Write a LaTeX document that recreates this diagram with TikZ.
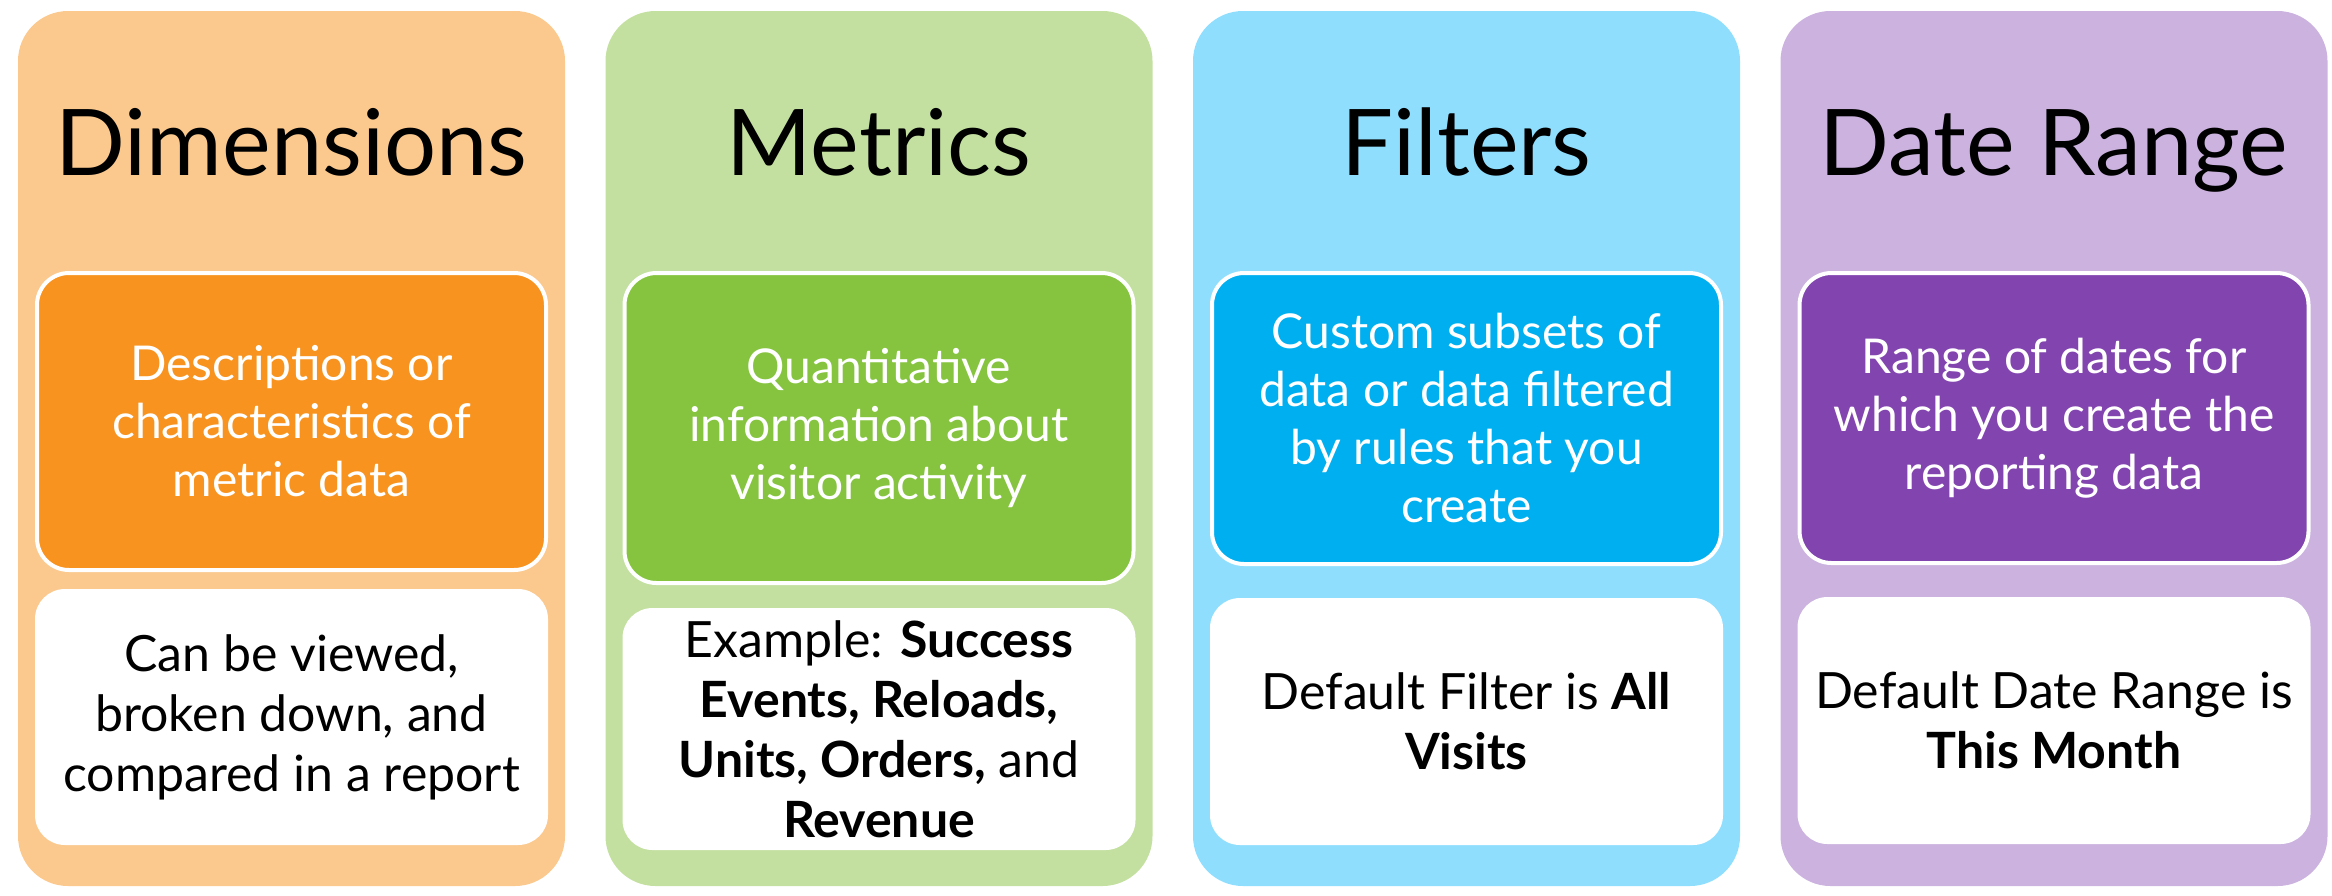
\documentclass[tikz,border=0pt]{standalone}
\usepackage{fontspec}
\setmainfont{Lato}
\usetikzlibrary{calc}
% panel colours (light back, strong box)
\definecolor{dimLight}{HTML}{FBC98E}
\definecolor{dimDark}{HTML}{F7931E}
\definecolor{metLight}{HTML}{C3E0A0}
\definecolor{metDark}{HTML}{86C43F}
\definecolor{filLight}{HTML}{90DEFE}
\definecolor{filDark}{HTML}{00AFEF}
\definecolor{dateLight}{HTML}{CBB2DF}
\definecolor{dateDark}{HTML}{8245AF}
\tikzset{
	panel/.style={rectangle, rounded corners=25pt, inner sep=0pt,
		minimum width=273.5pt, minimum height=437.5pt},
	heading/.style={anchor=base, inner sep=0pt, font=\fontsize{46}{56}\selectfont},
	descBox/.style={rectangle, rounded corners=16pt, draw=white, line width=2pt,
		text=white, align=center, inner sep=0pt, minimum width=254.5pt,
		font=\fontsize{24}{29}\selectfont},
	noteBox/.style={rectangle, rounded corners=15pt, fill=white, align=center,
		inner sep=0pt, minimum width=256.5pt, font=\fontsize{25}{30}\selectfont},
}
\begin{document}
\begin{tikzpicture}[x=0.5pt, y=-0.5pt]
		
		\useasboundingbox (0,0) rectangle (2332,895);
		
		% back panels, one per column
		\foreach \cx/\shade/\name in {291.5/dimLight/dim, 879/metLight/met, 1466.5/filLight/fil, 2054/dateLight/date}
		{
			\node[panel, fill=\shade] (\name Panel) at (\cx,448.5) {};
		}
		
		% column headings
		\node[heading] (dimTitle) at (291.5,175) {Dimensions};
		\node[heading] (metTitle) at (879,175) {Metrics};
		\node[heading] (filTitle) at (1466.5,175) {Filters};
		\node[heading] (dateTitle) at (2054,175) {Date Range};
		
		% coloured boxes with the definitions
		\node[descBox, fill=dimDark, minimum height=148.5pt] (dimDesc) at (291.5,421.5)
			{Descriptions or\\ characteristics of\\ metric data};
		\node[descBox, fill=metDark, minimum height=155pt] (metDesc) at (879,428)
			{Quantitative\\ information about\\ visitor activity};
		\node[descBox, fill=filDark, minimum height=145.5pt] (filDesc) at (1466.5,418.5)
			{Custom subsets of\\ data or data filtered\\ by rules that you\\ create};
		\node[descBox, fill=dateDark, minimum height=145pt] (dateDesc) at (2054,418)
			{Range of dates for\\ which you create the\\ reporting data};
		
		% white boxes below
		\node[noteBox, minimum height=128pt] (dimNote) at (291.5,717)
			{Can be viewed,\\ broken down, and\\ compared in a report};
		\node[noteBox, minimum height=121pt] (metNote) at (879,729)
			{Example: \textbf{Success}\\ \textbf{Events, Reloads,}\\ \textbf{Units, Orders,} and\\ \textbf{Revenue}};
		\node[noteBox, minimum height=123.5pt] (filNote) at (1466.5,721.5)
			{Default Filter is \textbf{All}\\ \textbf{Visits}};
		\node[noteBox, minimum height=123.5pt] (dateNote) at (2054,720.5)
			{Default Date Range is\\ \textbf{This Month}};
		
\end{tikzpicture}
\end{document}
